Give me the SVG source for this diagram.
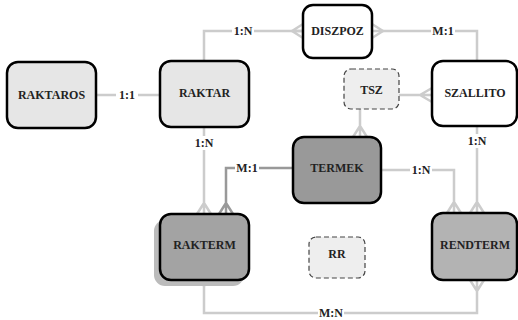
<svg xmlns="http://www.w3.org/2000/svg" width="518" height="320" viewBox="0 0 518 320">
<style>
.box{stroke:#000;stroke-width:2.5}
.dash{stroke:#444;stroke-width:1.2;stroke-dasharray:5,3;fill:#eeeeee}
text{font-family:'Liberation Serif','Times New Roman',serif;font-weight:bold;font-size:12px;text-anchor:middle;fill:#222}
.c{fill:none;stroke:#cccccc;stroke-width:2.5}
.cd{fill:none;stroke:#999999;stroke-width:2.5}
.lb{fill:#fff}
</style>
<rect width="518" height="320" fill="#fff"/>
<g id="connectors">
<path class="c" d="M96,95 H160"/>
<path class="c" d="M204,61 V31 H303"/>
<path class="c" d="M292,31 L303,24 M292,31 L303,31 M292,31 L303,38"/>
<path class="c" d="M372,31 H477 V61"/>
<path class="c" d="M383,31 L372,24 M383,31 L372,38"/>
<path class="c" d="M399,95 H432 M420,95 L432,88 M420,95 L432,102"/>
<path class="c" d="M360,109 V137 M360,126 L353,137 M360,126 L367,137"/>
<path class="c" d="M204,127 V214 M204,203 L197,214 M204,203 L211,214"/>
<path class="cd" d="M293,168 H226 V214 M226,203 L219,214 M226,203 L233,214"/>
<path class="c" d="M381,170 H454 V213 M454,202 L447,213 M454,202 L461,213"/>
<path class="c" d="M477,126 V213 M477,202 L470,213 M477,202 L484,213"/>
<path class="c" d="M204,280 V313 H477 V280 M477,291 L470,280 M477,291 L484,280"/>
<path d="M199,281 L209,281 L204,288 Z" fill="#cccccc"/>
<rect class="lb" x="116" y="88" width="22" height="14"/>
<text x="127" y="99">1:1</text>
<rect class="lb" x="232" y="24" width="22" height="14"/>
<text x="243" y="35">1:N</text>
<rect class="lb" x="431" y="24" width="24" height="14"/>
<text x="443" y="35">M:1</text>
<rect class="lb" x="193" y="136" width="22" height="14"/>
<text x="204" y="147">1:N</text>
<rect class="lb" x="466" y="134" width="22" height="14"/>
<text x="477" y="145">1:N</text>
<rect class="lb" x="235" y="161" width="24" height="14"/>
<text x="247" y="172">M:1</text>
<rect class="lb" x="410" y="163" width="22" height="14"/>
<text x="421" y="174">1:N</text>
<rect class="lb" x="318" y="306" width="26" height="14"/>
<text x="331" y="317">M:N</text>
</g>
<g id="RAKTAROS"><rect class="box" x="7" y="62" width="89" height="66" rx="11" fill="#e6e6e6"/><text x="51.5" y="99">RAKTAROS</text></g>
<g id="RAKTAR"><rect class="box" x="160" y="61" width="89" height="66" rx="11" fill="#e6e6e6"/><text x="204.5" y="97">RAKTAR</text></g>
<g id="DISZPOZ"><rect class="box" x="303" y="5" width="69" height="53" rx="10" fill="#fff"/><text x="337.5" y="35">DISZPOZ</text></g>
<g id="SZALLITO"><rect class="box" x="432" y="61" width="85" height="65" rx="11" fill="#fff"/><text x="475" y="97">SZALLITO</text></g>
<g id="TSZ"><rect class="dash" x="344" y="69" width="55" height="40" rx="7"/><text x="371.5" y="94">TSZ</text></g>
<g id="TERMEK"><rect class="box" x="293" y="137" width="88" height="66" rx="11" fill="#999999"/><text x="337" y="172">TERMEK</text></g>
<g id="RAKTERM"><rect x="154" y="220" width="90" height="66" rx="11" fill="#bbbbbb"/><rect class="box" x="160" y="214" width="89" height="66" rx="11" fill="#a3a3a3"/><text x="204.5" y="249">RAKTERM</text></g>
<g id="RENDTERM"><rect class="box" x="432" y="213" width="85" height="67" rx="11" fill="#b3b3b3"/><text x="475" y="249">RENDTERM</text></g>
<g id="RR"><rect class="dash" x="309" y="237" width="56" height="41" rx="7"/><text x="337" y="258">RR</text></g>
</svg>
